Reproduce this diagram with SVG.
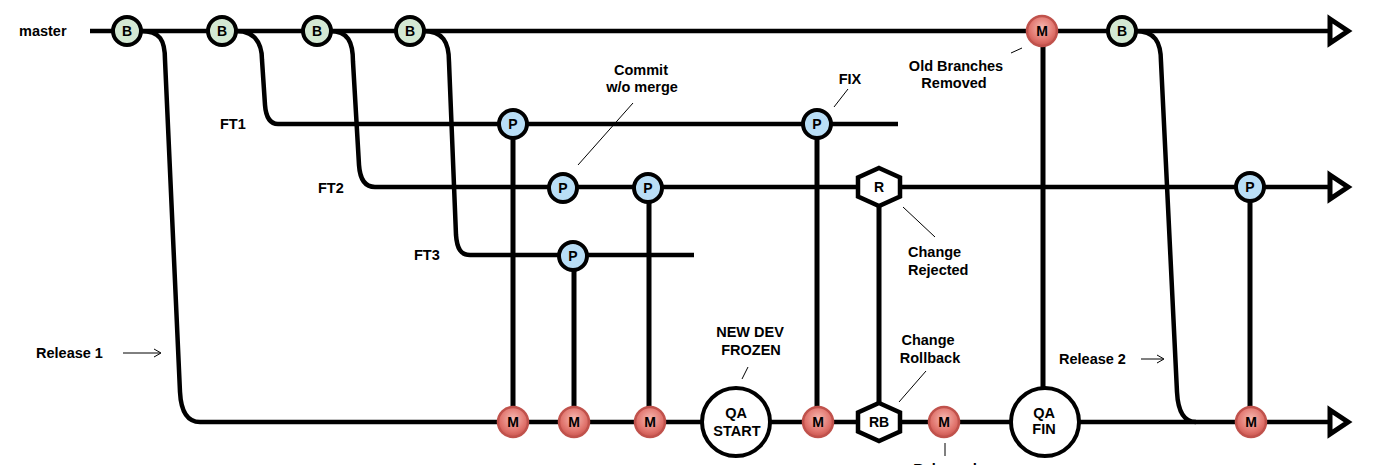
<svg xmlns="http://www.w3.org/2000/svg" width="1394" height="465" viewBox="0 0 1394 465">
<defs>
<radialGradient id="mg" cx="50%" cy="40%" r="60%">
<stop offset="0" stop-color="#f7b9b2"/>
<stop offset="0.7" stop-color="#e0736c"/>
<stop offset="1" stop-color="#c9544e"/>
</radialGradient>
</defs>
<style>
text{font-family:"Liberation Sans",Arial,sans-serif;font-weight:bold;font-size:14.5px;fill:#000}
.line{fill:none;stroke:#000;stroke-width:4.5;stroke-linecap:butt}
.vline{fill:none;stroke:#000;stroke-width:5}
.lead{fill:none;stroke:#000;stroke-width:1}
.arrowhead{fill:#fff;stroke:#000;stroke-width:5;stroke-linejoin:miter}
.b{fill:#d3e8d3;stroke:#000;stroke-width:4}
.p{fill:#b9def6;stroke:#000;stroke-width:4}
.m{fill:url(#mg);stroke:#c0524c;stroke-width:2.5}
.qa{fill:#fff;stroke:#000;stroke-width:4}
.hex{fill:#fff;stroke:#000;stroke-width:4.5;stroke-linejoin:miter}
.lbl{text-anchor:middle}
.nl{text-anchor:middle;font-size:14px}
</style>
<g id="connectors">
<path class="line" d="M90 31 L1328 31"/>
<path class="line" d="M141 31 C160 31 165 40 165 60 L180 392 C181 412 188 422 200 422 L1328 422"/>
<path class="line" d="M236 31 C252 31 262 40 262 60 L265 105 C266 118 270 124 278 124 L898 124"/>
<path class="line" d="M330 31 C348 31 353 42 353 62 L359 165 C360 180 365 187 375 187 L1328 187"/>
<path class="line" d="M423 31 C443 31 449 42 449 62 L456 235 C457 249 461 255 470 255 L694 255"/>
<path class="line" d="M1135 31 C1155 31 1161 42 1161 62 L1177 392 C1178 412 1184 422 1196 422"/>
<path class="vline" d="M513 124 L513 422"/>
<path class="vline" d="M574 256 L574 422"/>
<path class="vline" d="M649 188 L649 422"/>
<path class="vline" d="M817 124 L817 422"/>
<path class="vline" d="M879 187 L879 422"/>
<path class="vline" d="M1043 31 L1043 388"/>
<path class="vline" d="M1250 187 L1250 422"/>
<polygon class="arrowhead" points="1330,19 1348,31 1330,43"/>
<polygon class="arrowhead" points="1330,175 1348,187 1330,199"/>
<polygon class="arrowhead" points="1330,410 1348,422 1330,434"/>
<path class="lead" d="M633 103 L578 165"/>
<path class="lead" d="M848 89 L834 107"/>
<path class="lead" d="M1011 53 L1022 48"/>
<path class="lead" d="M903 207 L935 237"/>
<path class="lead" d="M748 367 L742 379"/>
<path class="lead" d="M926 371 L899 402"/>
<path class="lead" d="M945 443 L945 456"/>
<path class="lead" d="M123 353 L160 353"/>
<path class="lead" d="M154 349 L161 353 L154 357"/>
<path class="lead" d="M1141 359 L1163 359"/>
<path class="lead" d="M1157 355 L1164 359 L1157 363"/>
</g>
<g id="labels">
<text x="19" y="36">master</text>
<text x="220" y="129">FT1</text>
<text x="318" y="193">FT2</text>
<text x="414" y="260">FT3</text>
<text class="lbl" x="641" y="75">Commit</text>
<text class="lbl" x="642" y="92">w/o merge</text>
<text class="lbl" x="850" y="84">FIX</text>
<text class="lbl" x="956" y="71">Old Branches</text>
<text class="lbl" x="954" y="88">Removed</text>
<text x="908" y="257">Change</text>
<text x="908" y="275">Rejected</text>
<text class="lbl" x="750" y="337">NEW DEV</text>
<text class="lbl" x="751" y="355">FROZEN</text>
<text class="lbl" x="928" y="345">Change</text>
<text class="lbl" x="930" y="363">Rollback</text>
<text x="36" y="358">Release 1</text>
<text x="1059" y="364">Release 2</text>
<text class="lbl" x="945" y="474">Released</text>
</g>
<g id="b1"><circle class="b" cx="127" cy="31" r="14"/><text class="nl" x="127" y="36">B</text></g>
<g id="b2"><circle class="b" cx="222" cy="31" r="14"/><text class="nl" x="222" y="36">B</text></g>
<g id="b3"><circle class="b" cx="317" cy="31" r="14"/><text class="nl" x="317" y="36">B</text></g>
<g id="b4"><circle class="b" cx="410" cy="31" r="14"/><text class="nl" x="410" y="36">B</text></g>
<g id="b5"><circle class="b" cx="1122" cy="31" r="14"/><text class="nl" x="1122" y="36">B</text></g>
<g id="m-top"><circle class="m" cx="1042" cy="31" r="15"/><text class="nl" x="1042" y="36">M</text></g>
<g id="p1"><circle class="p" cx="513" cy="124" r="14"/><text class="nl" x="513" y="129">P</text></g>
<g id="p2"><circle class="p" cx="817" cy="124" r="14"/><text class="nl" x="817" y="129">P</text></g>
<g id="p3"><circle class="p" cx="563" cy="188" r="14"/><text class="nl" x="563" y="193">P</text></g>
<g id="p4"><circle class="p" cx="648" cy="188" r="14"/><text class="nl" x="648" y="193">P</text></g>
<g id="p5"><circle class="p" cx="1250" cy="187" r="14"/><text class="nl" x="1250" y="192">P</text></g>
<g id="p6"><circle class="p" cx="573" cy="256" r="14"/><text class="nl" x="573" y="261">P</text></g>
<g id="r"><polygon class="hex" points="879,168 900,177.5 900,196.5 879,206 858,196.5 858,177.5"/><text class="nl" x="879" y="192">R</text></g>
<g id="m1"><circle class="m" cx="513" cy="422" r="15"/><text class="nl" x="513" y="427">M</text></g>
<g id="m2"><circle class="m" cx="574" cy="422" r="15"/><text class="nl" x="574" y="427">M</text></g>
<g id="m3"><circle class="m" cx="650" cy="422" r="15"/><text class="nl" x="650" y="427">M</text></g>
<g id="qa-start"><circle class="qa" cx="736" cy="422" r="34"/><text class="lbl" x="736" y="418">QA</text><text class="lbl" x="737" y="436">START</text></g>
<g id="m4"><circle class="m" cx="818" cy="422" r="15"/><text class="nl" x="818" y="427">M</text></g>
<g id="rb"><polygon class="hex" points="879,403 900,412.5 900,431.5 879,441 858,431.5 858,412.5"/><text class="nl" x="879" y="427">RB</text></g>
<g id="m5"><circle class="m" cx="944" cy="422" r="15"/><text class="nl" x="944" y="427">M</text></g>
<g id="qa-fin"><circle class="qa" cx="1045" cy="422" r="34"/><text class="lbl" x="1044" y="418">QA</text><text class="lbl" x="1044" y="434">FIN</text></g>
<g id="m6"><circle class="m" cx="1251" cy="422" r="15"/><text class="nl" x="1251" y="427">M</text></g>
</svg>
